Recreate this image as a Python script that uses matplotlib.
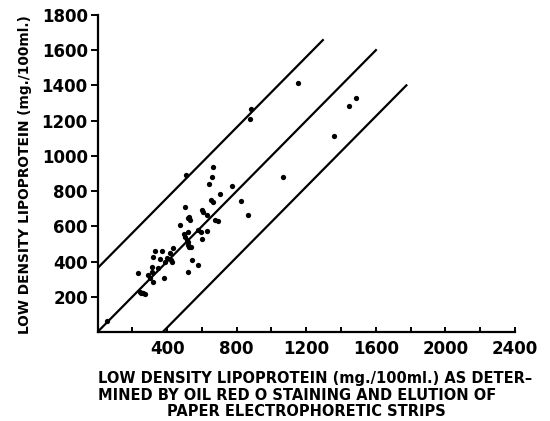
import matplotlib
matplotlib.use("Agg")
import matplotlib.pyplot as plt
import numpy as np

# ---- data ----
x_vals = [55, 244, 250, 263, 273, 234, 292, 311, 302, 321, 311, 349, 384,
          321, 330, 369, 359, 388, 398, 417, 436, 420, 430,
          474, 503, 507, 522, 532, 528, 522, 503, 513, 522, 522, 526, 536, 499,
          541, 522, 576, 579, 593, 631, 602, 599, 608, 628, 675, 694,
          641, 658, 662, 651, 662, 704, 771, 825, 863,
          877, 885, 1066, 1153, 1359, 1444, 1484]
y_vals = [63, 226, 222, 220, 214, 333, 324, 343, 305, 286, 371, 365, 309,
          428, 460, 460, 415, 399, 422, 447, 476, 410, 395,
          608, 708, 892, 646, 636, 655, 567, 541, 523, 513, 494, 485, 485, 557,
          409, 339, 381, 580, 570, 574, 528, 693, 683, 665, 636, 631,
          839, 879, 939, 750, 740, 782, 831, 746, 665,
          1212, 1269, 880, 1416, 1112, 1283, 1326]

# reference lines: (offset, x start, x end) for y = x + offset
line_offsets = [362, 0, -375]
line_x_start = [0, 0, 375]
line_x_end = [1300, 1605, 1780]

x_ticks = list(range(200, 2401, 200))
x_tick_labels = [str(v) if v % 400 == 0 else "" for v in x_ticks]
y_ticks = list(range(200, 1801, 200))
y_tick_labels = [str(v) for v in y_ticks]

y_label = "LOW DENSITY LIPOPROTEIN (mg./100ml.)"
x_label_lines = ["LOW DENSITY LIPOPROTEIN (mg./100ml.) AS DETER\u2013",
                 "MINED BY OIL RED O STAINING AND ELUTION OF",
                 "PAPER ELECTROPHORETIC STRIPS"]

# ---- figure ----
W, H = 550, 421
fig = plt.figure(figsize=(W / 100, H / 100), dpi=100)
ax = fig.add_axes([97.5 / W, 1 - 332 / H, (515 - 97.5) / W, (332 - 15) / H])
ax.set_xlim(0, 2400)
ax.set_ylim(0, 1800)

for off, xs, xe in zip(line_offsets, line_x_start, line_x_end):
    xx = np.array([xs, xe], dtype=float)
    ax.plot(xx, xx + off, color="black", lw=1.6, solid_capstyle="butt")

ax.plot(x_vals, y_vals, "o", color="black", ms=3.8, mec="black", mew=0)

for s in ["top", "right"]:
    ax.spines[s].set_visible(False)
for s in ["left", "bottom"]:
    ax.spines[s].set_linewidth(1.6)

fp = dict(family="DejaVu Sans", weight="bold")
ax.set_xticks(x_ticks)
ax.set_xticklabels(x_tick_labels, fontsize=12, **fp)
ax.set_yticks(y_ticks)
ax.set_yticklabels(y_tick_labels, fontsize=12, **fp)
ax.tick_params(axis="x", direction="in", length=3.5, width=1.4, pad=6)
ax.tick_params(axis="y", direction="out", length=5, width=1.4, pad=2)

fig.canvas.draw()
renderer = fig.canvas.get_renderer()


def fit_text(t, target_px):
    bb = t.get_window_extent(renderer)
    cur = bb.width if t.get_rotation() == 0 else bb.height
    t.set_fontsize(t.get_fontsize() * target_px / cur)


# y label
yl = fig.text(25 / W, 1 - 175 / H, y_label, rotation=90, ha="center", va="center",
              fontsize=10, **fp)
fit_text(yl, 320)

# x label lines (baselines)
t1 = fig.text(98 / W, 1 - 383 / H, x_label_lines[0], ha="left", va="baseline", fontsize=10, **fp)
fit_text(t1, 432)
fs = t1.get_fontsize()
t2 = fig.text(98 / W, 1 - 400 / H, x_label_lines[1], ha="left", va="baseline", fontsize=fs, **fp)
t3 = fig.text(306 / W, 1 - 416 / H, x_label_lines[2], ha="center", va="baseline", fontsize=fs, **fp)

fig.savefig("out.png", dpi=100)
